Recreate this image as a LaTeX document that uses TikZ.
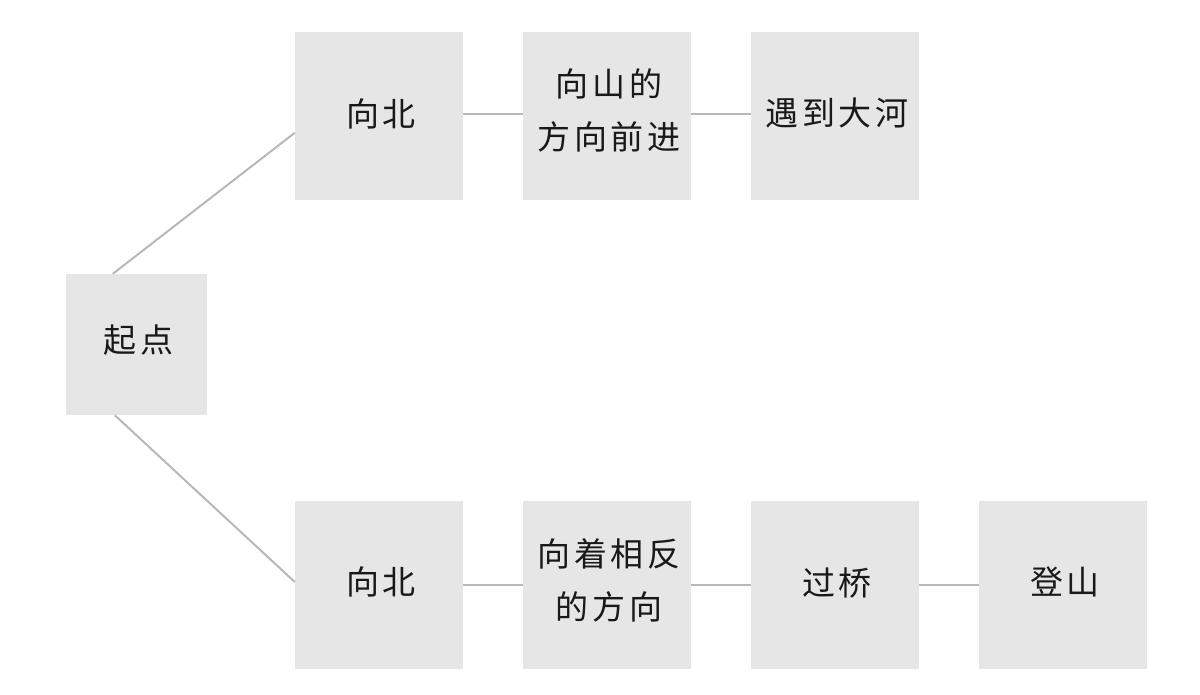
\documentclass[tikz,border=0pt]{standalone}
\usepackage{fontspec}
\newfontfamily\cjk[LetterSpace=12]{Noto Sans CJK SC}
\newcommand\lsp{\hspace*{4pt}}
\definecolor{boxfill}{HTML}{E6E6E6}
\definecolor{linkcol}{HTML}{B8B8B8}
\tikzset{
  stepbox/.style={fill=boxfill, draw=none, inner sep=0pt, minimum width=168pt, minimum height=168pt, align=center, text depth=7pt, font=\cjk\fontsize{33}{53}\selectfont, text=black!90},
  startbox/.style={stepbox, minimum width=141pt, minimum height=141pt, text depth=12pt},
  link/.style={draw=linkcol, line width=2pt}
}
\begin{document}
\begin{tikzpicture}[x=1pt,y=-1pt]
\useasboundingbox (0,0) rectangle (1200,694);
\node[startbox] (s) at (136.5,344.5) {\lsp 起点};
\node[stepbox] (a1) at (379,116) {\lsp 向北};
\node[stepbox, text depth=14pt] (a2) at (607,116) {\lsp 向山的\\\lsp 方向前进};
\node[stepbox, text depth=9pt] (a3) at (835,116) {\lsp 遇到大河};
\node[stepbox] (b1) at (379,584.5) {\lsp 向北};
\node[stepbox, text depth=10pt] (b2) at (607,584.5) {\lsp 向着相反\\\lsp 的方向};
\node[stepbox, text depth=5pt] (b3) at (835,584.5) {\lsp 过桥};
\node[stepbox] (b4) at (1063,584.5) {\lsp 登山};
\draw[link] ([xshift=47pt]s.north west) -- ([yshift=-101pt]a1.north west);
\draw[link] ([xshift=49pt]s.south west) -- ([yshift=2.5pt]b1.west);
\draw[link] ([yshift=1.7pt]a1.east) -- ([yshift=1.7pt]a2.west);
\draw[link] ([yshift=1.7pt]a2.east) -- ([yshift=1.7pt]a3.west);
\draw[link] (b1.east) -- (b2.west);
\draw[link] (b2.east) -- (b3.west);
\draw[link] (b3.east) -- (b4.west);
\end{tikzpicture}
\end{document}
